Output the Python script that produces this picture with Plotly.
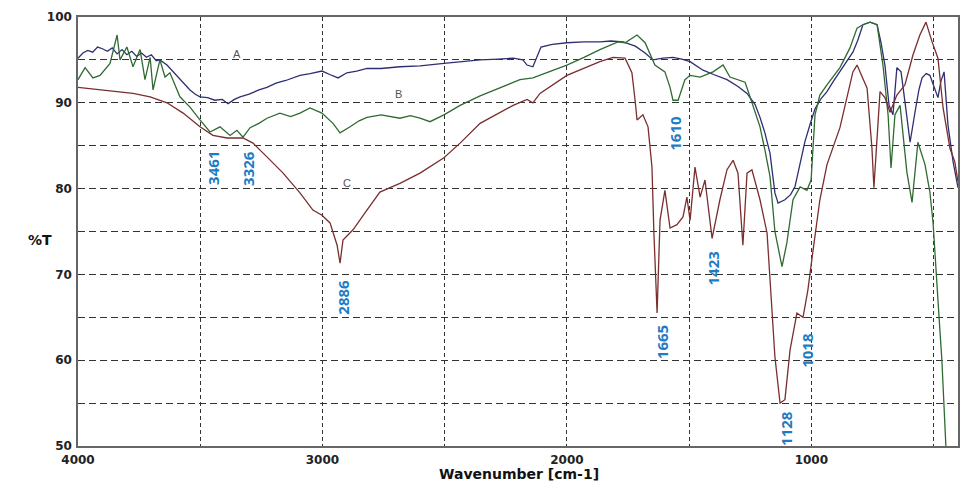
import plotly.graph_objects as go

# ---- data ----
wn_A = [4000, 3980, 3960, 3940, 3920, 3900, 3880, 3860, 3840, 3820, 3800, 3780, 3760, 3740,
        3720, 3700, 3680, 3665, 3636, 3600, 3570, 3542, 3520, 3501, 3470, 3440, 3410, 3386,
        3360, 3337, 3300, 3260, 3227, 3190, 3150, 3092, 3050, 3002, 2970, 2936, 2900, 2860,
        2818, 2760, 2683, 2600, 2503, 2430, 2355, 2280, 2220, 2180, 2163, 2139, 2120, 2106,
        2060, 2000, 1930, 1865, 1820, 1770, 1720, 1680, 1648, 1630, 1607, 1566, 1530, 1496,
        1443, 1400, 1345, 1300, 1263, 1230, 1210, 1190, 1169, 1149, 1136, 1108, 1085, 1067,
        1045, 1026, 1005, 985, 960, 936, 910, 883, 855, 830, 810, 789, 760, 731, 715, 699,
        682, 666, 650, 633, 617, 596, 576, 560, 547, 530, 515, 498, 482, 470, 457, 441, 420, 400]
T_A = [95.2, 95.8, 96.1, 95.9, 96.5, 96.3, 96.0, 96.4, 95.7, 96.2, 95.6, 96.0, 95.4, 95.8,
       95.3, 95.6, 94.9, 95.0, 94.4, 93.3, 92.4, 91.5, 91.0, 90.7, 90.6, 90.3, 90.4, 89.9,
       90.4, 90.7, 91.0, 91.5, 91.8, 92.3, 92.6, 93.2, 93.4, 93.7, 93.3, 92.9, 93.5, 93.7,
       94.0, 94.0, 94.2, 94.3, 94.6, 94.8, 95.0, 95.1, 95.2, 95.0, 94.4, 94.2, 95.6, 96.5,
       96.8, 97.0, 97.1, 97.1, 97.2, 97.1, 96.6, 95.8, 95.0, 95.1, 95.2, 95.3, 95.1, 94.8,
       93.8, 93.3, 92.7, 91.9, 91.1, 89.8, 88.3, 86.5, 84.1, 79.5, 78.3, 78.7, 79.3, 80.2,
       83.0, 85.5, 87.5, 89.3, 90.5, 91.3, 92.5, 93.6, 94.8, 95.9, 97.3, 99.1, 99.4, 99.1,
       97.0, 94.4, 89.7, 88.6, 94.1, 93.6, 90.1, 85.4, 88.9, 91.5, 92.9, 93.4, 93.2, 91.8,
       90.6, 92.5, 93.6, 87.4, 83.1, 80.1]

wn_B = [4000, 3971, 3939, 3910, 3869, 3840, 3828, 3800, 3775, 3746, 3726, 3705, 3693, 3665,
        3644, 3624, 3583, 3542, 3501, 3460, 3419, 3378, 3350, 3325, 3296, 3260, 3227, 3174,
        3130, 3092, 3051, 3002, 2957, 2928, 2887, 2850, 2818, 2760, 2683, 2640, 2601, 2560,
        2503, 2437, 2355, 2280, 2192, 2139, 2070, 2000, 1930, 1865, 1791, 1762, 1713, 1680,
        1640, 1599, 1578, 1566, 1545, 1517, 1496, 1455, 1402, 1361, 1333, 1271, 1251, 1210,
        1190, 1169, 1149, 1120, 1100, 1075, 1046, 1018, 1001, 985, 965, 936, 883, 842, 813,
        789, 760, 731, 707, 686, 674, 658, 637, 609, 588, 564, 535, 515, 502, 494, 482, 466,
        453, 448]
T_B = [92.7, 94.1, 92.9, 93.2, 94.6, 97.9, 95.0, 96.5, 94.2, 96.2, 92.7, 95.3, 91.5, 95.0,
       93.0, 93.5, 90.7, 89.5, 88.0, 86.6, 87.2, 86.2, 86.8, 86.0, 87.1, 87.6, 88.2, 88.8,
       88.4, 88.8, 89.4, 88.8, 87.6, 86.5, 87.2, 87.9, 88.3, 88.6, 88.2, 88.5, 88.2, 87.8,
       88.6, 89.7, 90.8, 91.7, 92.7, 92.9, 93.6, 94.4, 95.3, 96.2, 97.1, 97.0, 97.9, 97.0,
       94.4, 93.6, 91.8, 90.3, 90.3, 92.7, 93.2, 93.0, 93.6, 94.4, 93.0, 92.4, 90.7, 87.2,
       84.5, 81.4, 75.0, 70.9, 73.7, 78.7, 80.2, 79.8, 81.0, 88.6, 90.9, 92.1, 94.1, 96.4,
       98.7, 99.1, 99.4, 99.1, 94.4, 88.6, 82.4, 88.6, 89.7, 81.9, 78.4, 85.4, 82.8, 79.6,
       76.0, 72.0, 67.0, 60.0, 50.5, 49.0]

wn_C = [4000, 3910, 3840, 3775, 3705, 3636, 3570, 3501, 3448, 3390, 3325, 3284, 3227, 3161,
        3092, 3039, 3002, 2969, 2940, 2928, 2916, 2875, 2818, 2765, 2683, 2601, 2503, 2437,
        2355, 2280, 2220, 2163, 2139, 2110, 2000, 1865, 1811, 1762, 1734, 1721, 1713, 1689,
        1668, 1652, 1644, 1631, 1619, 1599, 1578, 1550, 1525, 1509, 1496, 1476, 1455, 1435,
        1406, 1374, 1345, 1320, 1300, 1280, 1263, 1243, 1210, 1181, 1169, 1149, 1128, 1108,
        1087, 1059, 1034, 1014, 993, 965, 936, 883, 830, 813, 772, 752, 744, 731, 719, 699,
        678, 650, 617, 584, 556, 531, 506, 482, 461, 433, 413, 400]
T_C = [91.8, 91.5, 91.3, 91.1, 90.7, 90.0, 88.8, 87.2, 86.2, 85.9, 85.9, 85.3, 83.7, 81.8,
       79.5, 77.5, 76.9, 76.0, 73.4, 71.3, 74.0, 75.2, 77.5, 79.6, 80.6, 81.8, 83.6, 85.3,
       87.6, 88.8, 89.7, 90.4, 90.0, 91.1, 93.2, 94.8, 95.3, 95.2, 93.5, 90.3, 88.0, 88.6,
       87.2, 82.5, 74.8, 65.5, 76.3, 79.8, 75.4, 75.8, 76.7, 79.0, 76.3, 82.5, 79.0, 81.0,
       74.2, 78.7, 82.2, 83.3, 81.8, 73.4, 81.8, 82.2, 78.7, 74.8, 69.7, 60.4, 55.0, 55.4,
       61.2, 65.5, 65.0, 68.2, 72.8, 78.7, 82.8, 87.1, 93.6, 94.4, 91.7, 84.7, 80.1, 86.6,
       91.3, 90.6, 88.9, 90.9, 92.1, 95.6, 97.9, 99.4, 97.1, 95.2, 89.4, 84.7, 83.1, 80.8]

peak_labels = ["3461", "3326", "2886", "1610", "1665", "1423", "1128", "1018"]
peak_label_x = [3448, 3305, 2916, 1558, 1611, 1402, 1104, 1018]
peak_label_y = [82.4, 82.4, 67.4, 86.5, 62.1, 70.7, 52.1, 61.2]

curve_names = ["A", "B", "C"]
curve_label_x = [3350, 2690, 2900]
curve_label_y = [95.7, 91.0, 80.7]

x_tickvals = [4000, 3500, 3000, 2500, 2000, 1500, 1000, 500, 400]
x_ticktext = ["4000", "", "3000", "", "2000", "", "1000", "", "400"]
y_tickvals = [50, 55, 60, 65, 70, 75, 80, 85, 90, 95, 100]
y_ticktext = ["50", "", "60", "", "70", "", "80", "", "90", "", "100"]

colors = {"A": "#2e2e72", "B": "#2f6a32", "C": "#7a2e2e"}

fig = go.Figure()
for name, xs, ys in [("A", wn_A, T_A), ("B", wn_B, T_B), ("C", wn_C, T_C)]:
    fig.add_trace(go.Scatter(x=xs, y=ys, mode="lines", name=name,
                             line=dict(color=colors[name], width=1.3),
                             showlegend=False, hoverinfo="skip"))

for t, xv, yv in zip(peak_labels, peak_label_x, peak_label_y):
    fig.add_annotation(x=xv, y=yv, text=t, showarrow=False, textangle=-90,
                       font=dict(family="Open Sans", size=15, color="#1f7cc4", weight="bold"))

for t, xv, yv in zip(curve_names, curve_label_x, curve_label_y):
    fig.add_annotation(x=xv, y=yv, text=t, showarrow=False,
                       font=dict(family="Liberation Sans", size=11, color="#555555"))

tick_font = dict(family="DejaVu Sans", size=12, color="#222222", weight="bold")
axis_common = dict(
    showgrid=True, gridcolor="#333333", gridwidth=1.2,
    showline=True, linecolor="#666666", linewidth=1.5, mirror=True,
    ticks="", zeroline=False, automargin=False, tickfont=tick_font,
)

fig.update_xaxes(range=[4000, 400], tickmode="array", tickvals=x_tickvals,
                 ticktext=x_ticktext, griddash="4px,3px", ticklabelstandoff=2,
                 **axis_common)
fig.update_yaxes(range=[50, 100], tickmode="array", tickvals=y_tickvals,
                 ticktext=y_ticktext, griddash="7px,4px", ticklabelstandoff=2,
                 **axis_common)

title_font = dict(family="DejaVu Sans", size=14, color="#111111", weight="bold")
fig.add_annotation(xref="paper", yref="paper", x=(519 - 78) / 880, y=-(474 - 446) / 429,
                   text="Wavenumber [cm-1]", showarrow=False, yanchor="middle",
                   font=title_font)
fig.add_annotation(xref="paper", yref="paper", x=(26 - 78) / 880, y=(446 - 240) / 429,
                   text="%T", showarrow=False, yanchor="middle",
                   font=dict(family="DejaVu Sans", size=14, color="#111111", weight="bold"))

fig.update_layout(
    width=969, height=483,
    margin=dict(l=78, r=11, t=17, b=37),
    paper_bgcolor="white", plot_bgcolor="white",
)

fig.write_html("out.html")
